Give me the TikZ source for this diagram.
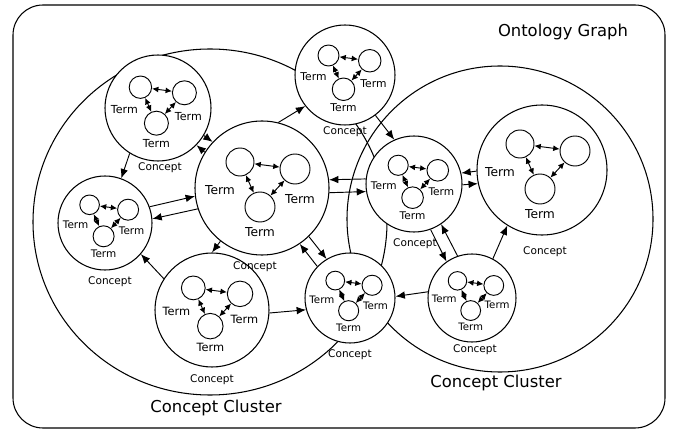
\documentclass[tikz,border=0pt]{standalone}
\usepackage{fontspec}
\setmainfont{DejaVu Sans}
\usetikzlibrary{arrows.meta}

\begin{document}
\begin{tikzpicture}[x=0.03cm,y=-0.03cm,
  concept/.style={draw,circle,fill=white,inner sep=0pt,line width=0.9pt},
  loopnode/.style={draw,circle,inner sep=0pt,line width=0.8pt},
  link/.style={-{Latex[length=8pt,width=6.5pt]},line width=0.8pt},
  termlink/.style={{Latex[length=5.5pt,width=5pt]}-{Latex[length=5.5pt,width=5pt]},line width=0.8pt},
  term/.style={font=\fontsize{10.5}{12}\selectfont,inner sep=0pt},
  capt/.style={font=\fontsize{9}{10}\selectfont,inner sep=0pt},
  title/.style={font=\fontsize{14}{16}\selectfont,inner sep=0pt}]
\useasboundingbox (0,0) rectangle (674,432);

%frame
\draw[line width=0.9pt,rounded corners=0.9cm] (13,5) rectangle (665,428);
\node[title] (graphlbl) at (563,32) {Ontology Graph};

%clusters
\draw[line width=0.9pt] (210,222) ellipse [x radius=177, y radius=173];
\draw[line width=0.9pt] (500,219) circle [radius=153];
\node[title] (leftlbl) at (216,408) {Concept Cluster};
\node[title] (rightlbl) at (496,383) {Concept Cluster};

%concepts
\node[concept,minimum size=106*0.03cm] (cA) at (158,108) {};
\node[concept,minimum size=134*0.03cm] (cB) at (262,188) {};
\node[concept,minimum size=100*0.03cm] (cC) at (345,75) {};
\node[concept,minimum size=96*0.03cm] (cD) at (414,184) {};
\node[concept,minimum size=130*0.03cm] (cE) at (542,170) {};
\node[concept,minimum size=94*0.03cm] (cF) at (105,223) {};
\node[concept,minimum size=114*0.03cm] (cG) at (212,310) {};
\node[concept,minimum size=90*0.03cm] (cH) at (350,298) {};
\node[concept,minimum size=88*0.03cm] (cI) at (472,298) {};

\node[capt] (cA-lbl) at (160,168) {Concept};
\node[capt] (cB-lbl) at (255,267) {Concept};
\node[capt] (cC-lbl) at (345,132) {Concept};
\node[capt] (cD-lbl) at (415,244) {Concept};
\node[capt] (cE-lbl) at (545,252) {Concept};
\node[capt] (cF-lbl) at (110,282) {Concept};
\node[capt] (cG-lbl) at (212,380) {Concept};
\node[capt] (cH-lbl) at (350,355) {Concept};
\node[capt] (cI-lbl) at (475,350) {Concept};

%terms
\foreach \n/\x/\y/\s in {cA/158/108/0.8, cB/262/188/1, cC/345/75/0.75,
    cD/414/184/0.72, cE/542/170/1, cF/105/223/0.7, cG/212/310/0.85,
    cH/350/298/0.67, cI/472/298/0.66}{
  \node[loopnode,minimum size=28*\s*0.03cm] (\n-tl) at ({\x-22*\s},{\y-26*\s}) {};
  \node[loopnode,minimum size=30*\s*0.03cm] (\n-tr) at ({\x+33*\s},{\y-19*\s}) {};
  \node[loopnode,minimum size=30*\s*0.03cm] (\n-bm) at ({\x-2*\s},{\y+19*\s}) {};
  \draw[termlink] (\n-tl) -- (\n-tr);
  \draw[termlink] (\n-tr) -- (\n-bm);
  \draw[termlink] (\n-bm) -- (\n-tl);
  \node[term,scale=0.5+0.5*\s] (\n-lt) at ({\x-42*\s},{\y+2*\s}) {Term};
  \node[term,scale=0.5+0.5*\s] (\n-bt) at ({\x-2*\s},{\y+44*\s}) {Term};
}
\foreach \n/\x/\y/\s in {cA/158/108/0.8, cB/262/188/1, cC/345/75/0.75,
    cD/414/184/0.72, cF/105/223/0.7, cG/212/310/0.85,
    cH/350/298/0.67, cI/472/298/0.66}
  \node[term,scale=0.5+0.5*\s] (\n-rt) at ({\x+38*\s},{\y+11*\s}) {Term};

%links, pairs
\draw[link] (cA.-31) -- (cB.137);
\draw[link] (cB.148) -- (cA.-44);
\draw[link] (cF.20) -- (cB.187);
\draw[link] (cB.198) -- (cF.5);
\draw[link] (cD.174) -- (cB.7);
\draw[link] (cB.-4) -- (cD.189);
\draw[link] (cE.181) -- (cD.13);
\draw[link] (cD.-1) -- (cE.192);
\draw[link] (cB.-46) -- (cH.121);
\draw[link] (cH.136) -- (cB.-56);
\draw[link] (cI.109) -- (cD.-56);
\draw[link] (cD.-70) -- (cI.125);

%links, single
\draw[link] (cA.-122) -- (cF.70);
\draw[link] (cB.-128) -- (cG.90);
\draw[link] (cG.147) -- (cF.-41);
\draw[link] (cB.76) -- (cC.-142);
\draw[link] (cC.-53) -- (cD.114);
\draw[link] (cI.62) -- (cE.-122);
\draw[link] (cI.172) -- (cH.2);
\draw[link] (cG.-3) -- (cH.-165);
\end{tikzpicture}
\end{document}
